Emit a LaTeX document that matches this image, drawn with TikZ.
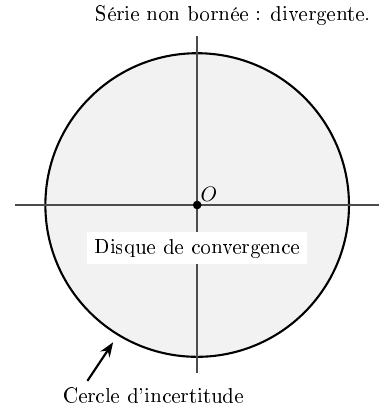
\documentclass[tikz,border=0pt]{standalone}
\usepackage[T1]{fontenc}
\usepackage{tikz}
\usetikzlibrary{positioning}
\usetikzlibrary{arrows.meta}

\begin{document}
\begin{tikzpicture}[scale=0.938]
    \useasboundingbox (-3.52,-3.57) rectangle (3.25,3.66);

    % Disc
    \draw[line width=1pt, fill=gray!10] (0,0) circle (2.71);

    % Axes
    \draw[line width=1.2pt, black!70] (-3.25,0) -- (3.25,0);
    \draw[line width=1.2pt, black!70] (0,-3) -- (0,3.02);

    % Origin
    \fill (0,0) circle (2.2pt);
    \node[above right, inner sep=1.5pt] (O) at (0,0) {$O$};

    % Labels
    \node[fill=white] (disque) at (0,-0.77) {Disque de convergence};
    \node (serie) at (0.64,3.39) {S\'erie non born\'ee : divergente.};
    \node (cercle) at (-0.78,-3.39) {Cercle d'incertitude};

    % Arrow to the circle
    \coordinate (tail) at (-1.96,-3.14);
    \coordinate (tip) at (-1.5,-2.45);
    \draw[line width=1pt, -{Stealth[length=7pt]}] (tail) -- (tip);
\end{tikzpicture}
\end{document}
